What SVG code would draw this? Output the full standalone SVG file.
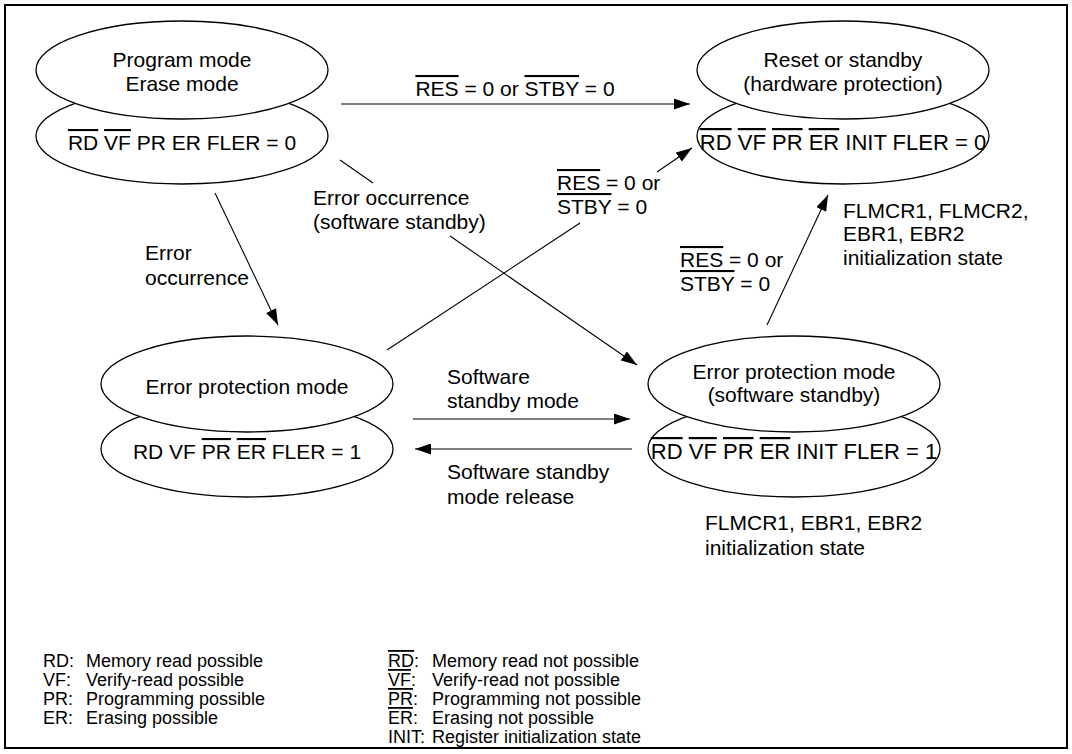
<svg xmlns="http://www.w3.org/2000/svg" width="1072" height="754" viewBox="0 0 1072 754">
<defs>
<style>
text { font-family: "Liberation Sans", Arial, sans-serif; fill: #000; }
.t { font-size: 21px; }
.w { font-size: 22px; }
.m { text-anchor: middle; }
.lg { font-size: 18px; }
.ov { text-decoration: overline; }
.el { fill: #fff; stroke: #000; stroke-width: 1.3; }
.ln { fill: none; stroke: #000; stroke-width: 1.1; }
.arr { marker-end: url(#ah); }
</style>
<marker id="ah" viewBox="0 0 16 11" refX="16" refY="5.5" markerWidth="16" markerHeight="11" markerUnits="userSpaceOnUse" orient="auto">
<path d="M0,0 L16,5.5 L0,11 z" fill="#000"/>
</marker>
</defs>
<rect x="5" y="5" width="1062" height="743" fill="#fff" stroke="#000" stroke-width="2"/>

<g id="connectors">
<line class="ln arr" x1="341" y1="104" x2="690" y2="104"/>
<line class="ln arr" x1="215" y1="193" x2="278" y2="325"/>
<line class="ln" x1="340" y1="160" x2="373" y2="183"/>
<line class="ln arr" x1="450" y1="236" x2="637" y2="365"/>
<line class="ln" x1="387" y1="350" x2="580" y2="223"/>
<line class="ln arr" x1="657" y1="172" x2="692" y2="148"/>
<line class="ln arr" x1="767" y1="325" x2="828" y2="195"/>
<line class="ln arr" x1="413" y1="419" x2="630" y2="419"/>
<line class="ln arr" x1="632" y1="449" x2="415" y2="449"/>
</g>

<g id="node-program-erase">
<ellipse class="el" cx="182" cy="136" rx="146" ry="48"/>
<ellipse class="el" cx="182" cy="70" rx="146" ry="49"/>
<text class="t m" x="182" y="67">Program mode</text>
<text class="t m" x="182" y="91">Erase mode</text>
<text class="t m" x="182" y="150"><tspan class="ov">RD</tspan> <tspan class="ov">VF</tspan> PR ER FLER = 0</text>
</g>

<g id="node-reset-standby">
<ellipse class="el" cx="843" cy="136" rx="146" ry="48"/>
<ellipse class="el" cx="843" cy="70" rx="146" ry="49"/>
<text class="t m" x="843" y="67">Reset or standby</text>
<text class="t m" x="843" y="91">(hardware protection)</text>
<text class="w m" x="843" y="150"><tspan class="ov">RD</tspan> <tspan class="ov">VF</tspan> <tspan class="ov">PR</tspan> <tspan class="ov">ER</tspan> INIT FLER = 0</text>
</g>

<g id="node-error-protection">
<ellipse class="el" cx="247" cy="449" rx="146" ry="48"/>
<ellipse class="el" cx="247" cy="384" rx="146" ry="48"/>
<text class="t m" x="247" y="394">Error protection mode</text>
<text class="t m" x="247" y="459">RD VF <tspan class="ov">PR</tspan> <tspan class="ov">ER</tspan> FLER = 1</text>
</g>

<g id="node-error-protection-sw">
<ellipse class="el" cx="794" cy="449" rx="146" ry="48"/>
<ellipse class="el" cx="794" cy="384" rx="146" ry="48"/>
<text class="t m" x="794" y="379">Error protection mode</text>
<text class="t m" x="794" y="402">(software standby)</text>
<text class="w m" x="794" y="459"><tspan class="ov">RD</tspan> <tspan class="ov">VF</tspan> <tspan class="ov">PR</tspan> <tspan class="ov">ER</tspan> INIT FLER = 1</text>
</g>

<g id="labels">
<text class="t m" x="515" y="96"><tspan class="ov">RES</tspan> = 0 or <tspan class="ov">STBY</tspan> = 0</text>
<text class="t" x="145" y="260">Error</text>
<text class="t" x="145" y="285">occurrence</text>
<text class="t" x="313" y="205">Error occurrence</text>
<text class="t" x="313" y="229">(software standby)</text>
<text class="t" x="557" y="190"><tspan class="ov">RES</tspan> = 0 or</text>
<text class="t" x="557" y="214"><tspan class="ov">STBY</tspan> = 0</text>
<text class="t" x="680" y="267"><tspan class="ov">RES</tspan> = 0 or</text>
<text class="t" x="680" y="291"><tspan class="ov">STBY</tspan> = 0</text>
<text class="t" x="843" y="218">FLMCR1, FLMCR2,</text>
<text class="t" x="843" y="241">EBR1, EBR2</text>
<text class="t" x="843" y="265">initialization state</text>
<text class="t" x="447" y="384">Software</text>
<text class="t" x="447" y="408">standby mode</text>
<text class="t" x="447" y="479">Software standby</text>
<text class="t" x="447" y="504">mode release</text>
<text class="t" x="705" y="530">FLMCR1, EBR1, EBR2</text>
<text class="t" x="705" y="555">initialization state</text>
</g>

<g id="legend">
<text class="lg" x="43" y="667">RD:</text><text class="lg" x="86" y="667">Memory read possible</text>
<text class="lg" x="43" y="686">VF:</text><text class="lg" x="86" y="686">Verify-read possible</text>
<text class="lg" x="43" y="705">PR:</text><text class="lg" x="86" y="705">Programming possible</text>
<text class="lg" x="43" y="724">ER:</text><text class="lg" x="86" y="724">Erasing possible</text>
<text class="lg" x="388" y="667"><tspan class="ov">RD</tspan>:</text><text class="lg" x="432" y="667">Memory read not possible</text>
<text class="lg" x="388" y="686"><tspan class="ov">VF</tspan>:</text><text class="lg" x="432" y="686">Verify-read not possible</text>
<text class="lg" x="388" y="705"><tspan class="ov">PR</tspan>:</text><text class="lg" x="432" y="705">Programming not possible</text>
<text class="lg" x="388" y="724"><tspan class="ov">ER</tspan>:</text><text class="lg" x="432" y="724">Erasing not possible</text>
<text class="lg" x="388" y="743">INIT:</text><text class="lg" x="432" y="743">Register initialization state</text>
</g>
</svg>
